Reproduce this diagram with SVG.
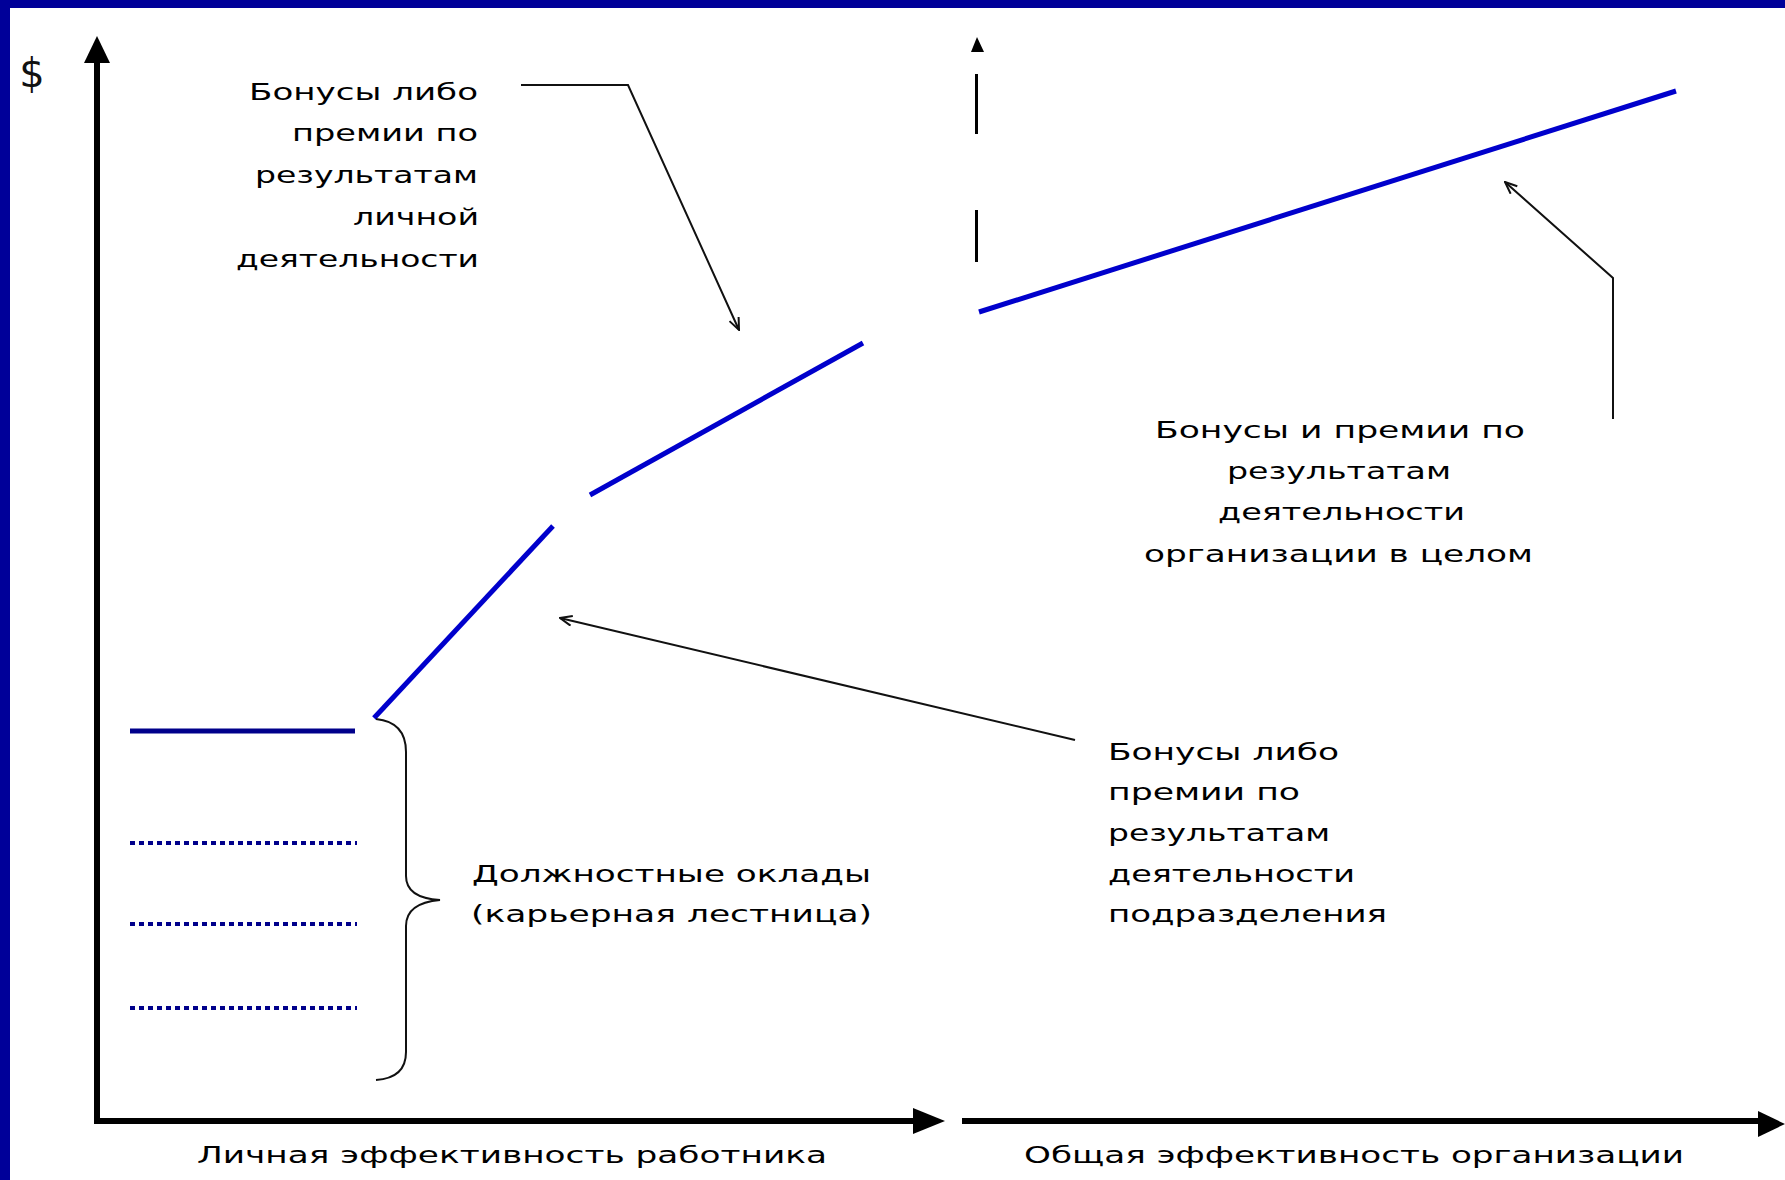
<svg xmlns="http://www.w3.org/2000/svg" width="1785" height="1180" viewBox="0 0 1785 1180">
<defs>
<style>
.t{font-family:"DejaVu Sans","Liberation Sans",sans-serif;font-size:23px;fill:#000}
.ax{stroke:#000;stroke-width:6;fill:none}
.call{stroke:#111;stroke-width:2;fill:none}
.seg{stroke:#0000cc;stroke-width:5;fill:none;stroke-linecap:butt}
.base{stroke:#00008b;stroke-width:5;fill:none}
.dot{stroke:#00008b;stroke-width:4;fill:none;stroke-dasharray:5 4}
</style>
<marker id="open" viewBox="0 0 14 12" refX="13" refY="6" markerWidth="14" markerHeight="12" markerUnits="userSpaceOnUse" orient="auto">
<path d="M1,1 L13,6 L1,11" fill="none" stroke="#111" stroke-width="2"/>
</marker>
</defs>
<rect width="1785" height="1180" fill="#fff"/>
<g id="frame">
<rect x="0" y="0" width="1785" height="8" fill="#000099"/>
<rect x="0" y="0" width="10" height="1180" fill="#000099"/>
</g>
<g id="axes">
<line class="ax" x1="97" y1="1121" x2="97" y2="60"/>
<polygon points="97,36 84,63 110,63" fill="#000"/>
<line class="ax" x1="94" y1="1121" x2="915" y2="1121"/>
<polygon points="945,1121 913,1108 913,1134" fill="#000"/>
<line class="ax" x1="962" y1="1121" x2="1760" y2="1121"/>
<polygon points="1785,1124 1758,1111 1758,1137" fill="#000"/>
<polygon points="977,37 971,52 984,52" fill="#000"/>
<line x1="976.5" y1="74" x2="976.5" y2="134" stroke="#000" stroke-width="3"/>
<line x1="976.5" y1="210" x2="976.5" y2="262" stroke="#000" stroke-width="3"/>
</g>
<g id="salary-levels">
<line class="base" x1="130" y1="731" x2="355" y2="731"/>
<line class="dot" x1="130" y1="843" x2="357" y2="843"/>
<line class="dot" x1="130" y1="924" x2="357" y2="924"/>
<line class="dot" x1="130" y1="1008" x2="357" y2="1008"/>
</g>
<g id="bonus-curve">
<line class="seg" x1="374" y1="718" x2="553" y2="526"/>
<line class="seg" x1="590" y1="495" x2="863" y2="343"/>
<line class="seg" x1="979" y1="312" x2="1676" y2="91"/>
</g>
<g id="brace">
<path d="M376,719 Q406,722 406,752 L406,876 Q406,898 440,900 Q406,903 406,926 L406,1052 Q406,1078 376,1080" fill="none" stroke="#111" stroke-width="2"/>
</g>
<g id="connectors">
<polyline class="call" points="521,85 628,85 739,330" marker-end="url(#open)"/>
<line class="call" x1="1075" y1="740" x2="560" y2="618" marker-end="url(#open)"/>
<polyline class="call" points="1613,419 1613,278 1505,182" marker-end="url(#open)"/>
</g>
<g id="dollar"><text x="32" y="87" text-anchor="middle" style="font-family:'DejaVu Sans',sans-serif;font-size:40px;fill:#111">$</text></g>
<g id="label-personal">
<text class="t" x="249" y="100" textLength="229" lengthAdjust="spacingAndGlyphs">Бонусы либо</text>
<text class="t" x="292" y="141" textLength="186" lengthAdjust="spacingAndGlyphs">премии по</text>
<text class="t" x="255" y="183" textLength="223" lengthAdjust="spacingAndGlyphs">результатам</text>
<text class="t" x="353" y="225" textLength="126" lengthAdjust="spacingAndGlyphs">личной</text>
<text class="t" x="236" y="267" textLength="243" lengthAdjust="spacingAndGlyphs">деятельности</text>
</g>
<g id="label-org">
<text class="t" x="1155" y="438" textLength="370" lengthAdjust="spacingAndGlyphs">Бонусы и премии по</text>
<text class="t" x="1227" y="479" textLength="224" lengthAdjust="spacingAndGlyphs">результатам</text>
<text class="t" x="1218" y="520" textLength="247" lengthAdjust="spacingAndGlyphs">деятельности</text>
<text class="t" x="1144" y="562" textLength="389" lengthAdjust="spacingAndGlyphs">организации в целом</text>
</g>
<g id="label-division">
<text class="t" x="1108" y="760" textLength="231" lengthAdjust="spacingAndGlyphs">Бонусы либо</text>
<text class="t" x="1108" y="800" textLength="192" lengthAdjust="spacingAndGlyphs">премии по</text>
<text class="t" x="1108" y="841" textLength="222" lengthAdjust="spacingAndGlyphs">результатам</text>
<text class="t" x="1108" y="882" textLength="247" lengthAdjust="spacingAndGlyphs">деятельности</text>
<text class="t" x="1108" y="922" textLength="279" lengthAdjust="spacingAndGlyphs">подразделения</text>
</g>
<g id="label-salary">
<text class="t" x="472" y="882" textLength="399" lengthAdjust="spacingAndGlyphs">Должностные оклады</text>
<text class="t" x="471" y="922" textLength="401" lengthAdjust="spacingAndGlyphs">(карьерная лестница)</text>
</g>
<g id="axis-labels">
<text class="t" x="197" y="1163" textLength="630" lengthAdjust="spacingAndGlyphs">Личная эффективность работника</text>
<text class="t" x="1024" y="1163" textLength="660" lengthAdjust="spacingAndGlyphs">Общая эффективность организации</text>
</g>
</svg>
